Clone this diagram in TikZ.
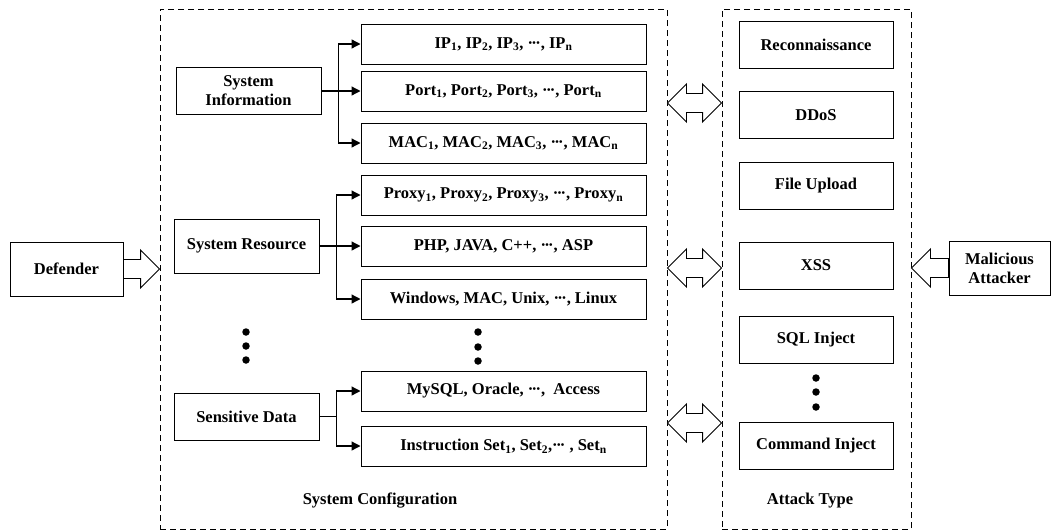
\documentclass[tikz,border=0pt]{standalone}
\usepackage{fontspec}
\setmainfont{Liberation Serif}
\usetikzlibrary{arrows.meta,calc}
\newcommand{\mdots}{·\kern-0.1em·\kern-0.1em·}
\newcommand{\blkR}[2]{\draw[blk] let \p1=(#1), \p2=(#2) in
 (\x1,\y1-9.5pt) -- (\x2-19pt,\y1-9.5pt) -- (\x2-19pt,\y1-19pt) -- (\x2,\y1) -- (\x2-19pt,\y1+19pt) -- (\x2-19pt,\y1+9.5pt) -- (\x1,\y1+9.5pt) -- cycle;}
\newcommand{\blkL}[2]{\draw[blk] let \p1=(#1), \p2=(#2) in
 (\x1,\y1-9.5pt) -- (\x2+19pt,\y1-9.5pt) -- (\x2+19pt,\y1-19pt) -- (\x2,\y1) -- (\x2+19pt,\y1+19pt) -- (\x2+19pt,\y1+9.5pt) -- (\x1,\y1+9.5pt) -- cycle;}
\newcommand{\blkD}[2]{\draw[blk] let \p1=(#1), \p2=(#2) in
 (\x1,\y1) -- (\x1+19pt,\y1-19pt) -- (\x1+19pt,\y1-9.5pt) -- (\x2-19pt,\y1-9.5pt) -- (\x2-19pt,\y1-19pt) -- (\x2,\y1) -- (\x2-19pt,\y1+19pt) -- (\x2-19pt,\y1+9.5pt) -- (\x1+19pt,\y1+9.5pt) -- (\x1+19pt,\y1+19pt) -- cycle;}
\begin{document}
\begin{tikzpicture}[x=1pt,y=-1pt,
 every node/.style={font=\fontsize{16.5}{19}\selectfont\bfseries},
 box/.style={draw=black, line width=1pt, inner sep=0pt, align=center},
 bx/.style 2 args={box, minimum width=#1pt, minimum height=#2pt},
 cont/.style={draw, dash pattern=on 6pt off 4pt, line width=0.9pt, inner sep=0pt},
 br/.style={line width=1.3pt, line join=miter, -{Triangle[length=9pt,width=9pt]}},
 blk/.style={draw, line width=0.9pt, fill=white, line join=miter},
 dot/.style={circle, fill, inner sep=0pt, minimum size=7.5pt}
]
\useasboundingbox (0,0) rectangle (1052,531);
% containers
\node[cont, minimum width=507pt, minimum height=520pt] (cfg) at (413.5,269) {};
\node[cont, minimum width=189pt, minimum height=520pt] (atk) at (816.5,269) {};
\node (cfglab) at (380,501) {System Configuration};
\node (atklab) at (810,501) {Attack Type};
% outer boxes
\node[bx={113}{54}] (def) at (66.5,269) {Defender};
\node[bx={101}{54}] (mal) at (999.5,268) {Malicious\\Attacker};
% left column
\node[bx={145}{47}] (si) at (248.5,91) {System\\Information};
\node[bx={145}{54}] (sr) at (246.5,246) {System Resource};
\node[bx={145}{47}] (sd) at (246.5,416.5) {Sensitive Data};
\node[dot] (ld1) at (246,332) {};
\node[dot] (ld2) at (246,346) {};
\node[dot] (ld3) at (246,360) {};
% middle column
\node[bx={285}{40}] (ip) at (503.5,44) {IP\textsubscript{1}, IP\textsubscript{2}, IP\textsubscript{3}, \mdots, IP\textsubscript{n}};
\node[bx={285}{40}] (port) at (503.5,91) {Port\textsubscript{1}, Port\textsubscript{2}, Port\textsubscript{3}, \mdots, Port\textsubscript{n}};
\node[bx={285}{40}] (mac) at (503.5,143) {MAC\textsubscript{1}, MAC\textsubscript{2}, MAC\textsubscript{3}, \mdots, MAC\textsubscript{n}};
\node[bx={285}{40}] (proxy) at (503.5,195) {Proxy\textsubscript{1}, Proxy\textsubscript{2}, Proxy\textsubscript{3}, \mdots, Proxy\textsubscript{n}};
\node[bx={285}{40}] (php) at (503.5,246) {PHP, JAVA, C++, \mdots, ASP};
\node[bx={285}{40}] (win) at (503.5,299) {Windows, MAC, Unix, \mdots, Linux};
\node[dot] (md1) at (478,332) {};
\node[dot] (md2) at (478,347) {};
\node[dot] (md3) at (478,361) {};
\node[bx={285}{40}] (mysql) at (503.5,391) {MySQL, Oracle, \mdots,\ \ Access};
\node[bx={285}{40}] (instr) at (503.5,446) {Instruction Set\textsubscript{1}, Set\textsubscript{2},\mdots\ , Set\textsubscript{n}};
% attack column
\node[bx={154}{47}] (recon) at (816,44.5) {Reconnaissance};
\node[bx={154}{47}] (ddos) at (816,115) {DDoS};
\node[bx={154}{47}] (file) at (816,185.5) {File Upload};
\node[bx={154}{47}] (xss) at (816,265.5) {XSS};
\node[bx={154}{47}] (sql) at (816,339.5) {SQL Inject};
\node[dot] (ad1) at (816,378) {};
\node[dot] (ad2) at (816,392) {};
\node[dot] (ad3) at (816,407) {};
\node[bx={154}{47}] (cmd) at (816,446) {Command Inject};
% branch connectors
\coordinate (j1) at ($(si.east)+(17,0)$);
\coordinate (j2) at ($(sr.east)+(17,0)$);
\coordinate (j3) at ($(sd.east)+(17,0)$);
\draw[br] (si.east) -- (port.west);
\draw[br] (j1) |- (ip.west);
\draw[br] (j1) |- (mac.west);
\draw[br] (sr.east) -- (php.west);
\draw[br] (j2) |- (proxy.west);
\draw[br] (j2) |- (win.west);
\draw[line width=1.3pt] (sd.east) -- (j3);
\draw[br] (j3) |- (mysql.west);
\draw[br] (j3) |- (instr.west);
% block arrows
\coordinate (y1) at (0,103);
\coordinate (y2) at (0,268);
\coordinate (y3) at (0,423);
\blkR{def.east}{def.east -| cfg.west}
\blkL{mal.west}{mal.west -| atk.east}
\blkD{cfg.east |- y1}{atk.west |- y1}
\blkD{cfg.east |- y2}{atk.west |- y2}
\blkD{cfg.east |- y3}{atk.west |- y3}
\end{tikzpicture}
\end{document}
